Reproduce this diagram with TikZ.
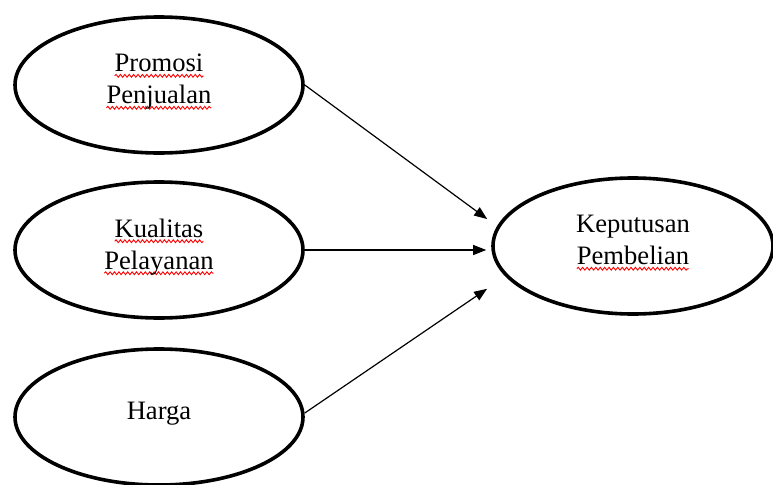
\documentclass[tikz,border=0pt]{standalone}
\usepackage{fontspec}
\setmainfont{Liberation Serif}
\usepackage{tikz}
\usetikzlibrary{arrows.meta,shapes.geometric,decorations.pathmorphing}

% red spell-check wave under a word
\newsavebox\squigbox
\newlength\squigw
\newcommand\squig[1]{\sbox\squigbox{#1}\setlength\squigw{\wd\squigbox}%
  \rlap{\tikz[overlay,baseline=0pt,x=1pt,y=1pt]\draw[red,line width=0.45pt,decorate,
    decoration={snake,amplitude=0.7pt,segment length=2.2pt}] (0,-2pt) -- (\squigw,-2pt);}%
  \usebox\squigbox}

\begin{document}
\begin{tikzpicture}[
  x=0.5pt,y=0.5pt,
  >={Triangle[length=6.5pt,width=5pt]},
  var/.style={draw=black, ellipse, line width=1.8pt, fill=white, minimum width=144pt, minimum height=68pt,
    align=center, font=\fontsize{13.3}{16}\selectfont, text depth=6pt},
  link/.style={->, draw=black, line width=0.6pt, shorten >=2.5pt}
]
\useasboundingbox (0,0) rectangle (773,484);

% independent variables
\node[var] (promosi) at (159,399) {\squig{Promosi}\\\squig{Penjualan}};
\node[var] (kualitas) at (159,234) {\squig{Kualitas}\\\squig{Pelayanan}};
\node[var] (harga) at (159,67) {Harga};

% dependent variable
\node[var, minimum width=140pt] (keputusan) at (633,238) {Keputusan\\\squig{Pembelian}};

% paths
\draw[link] (promosi.east) -- ([yshift=12pt]keputusan.west);
\draw[link] (kualitas.east) -- (kualitas.east -| keputusan.west);
\draw[link] ([yshift=2pt]harga.east) -- ([yshift=-20pt]keputusan.west);

\end{tikzpicture}
\end{document}
